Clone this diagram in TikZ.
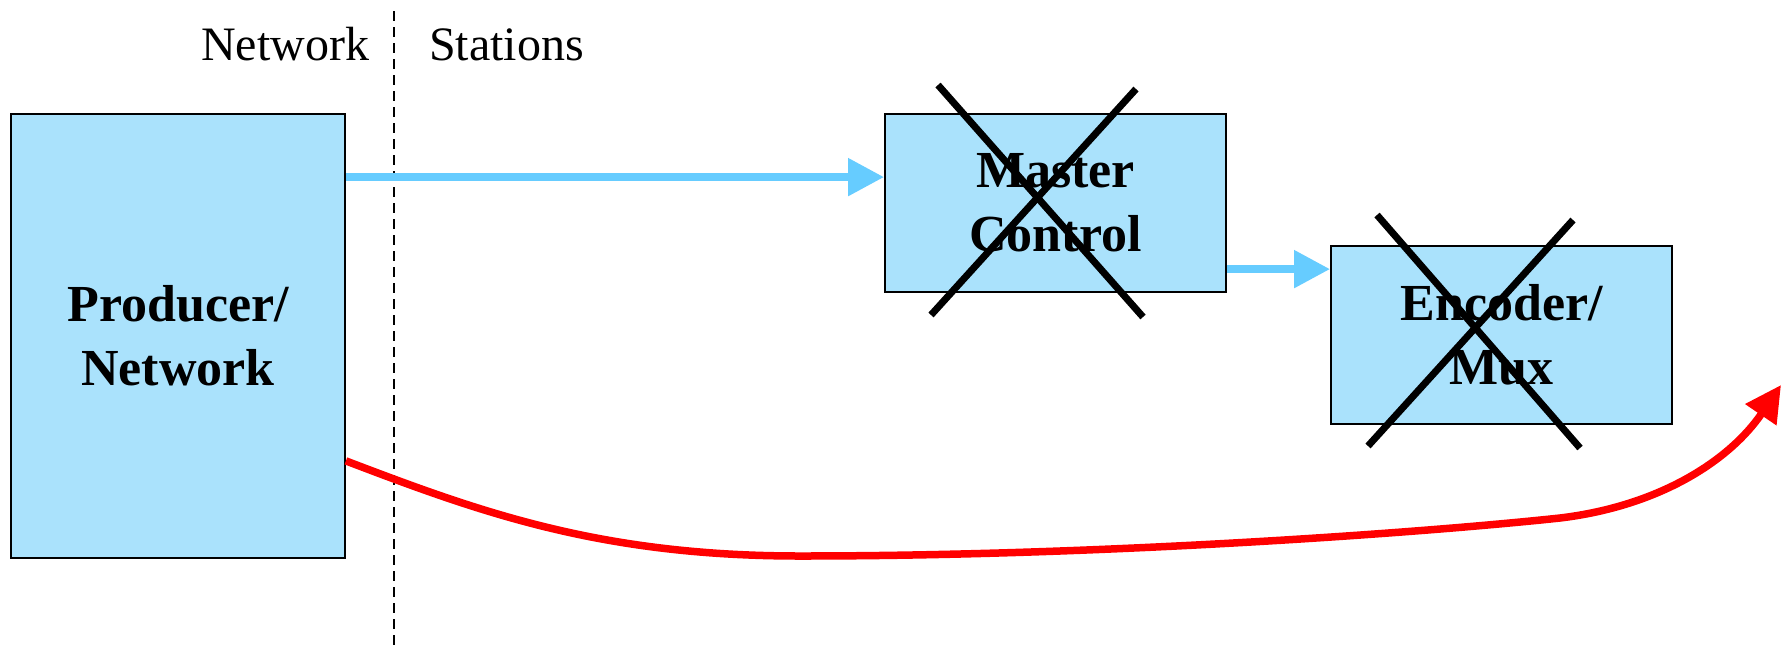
\documentclass[tikz,border=0pt]{standalone}
\usepackage{fontspec}
\setmainfont{Liberation Serif}
\usetikzlibrary{arrows.meta,calc}
\definecolor{boxfill}{RGB}{170,226,252}
\definecolor{flowblue}{RGB}{102,204,255}
\definecolor{flowred}{RGB}{255,0,0}
\tikzset{
  blockbox/.style={draw=black,line width=1.8pt,fill=boxfill,inner sep=0pt,align=center,
    font=\fontsize{52}{64}\selectfont\bfseries},
  bluearrow/.style={draw=flowblue,line width=8pt,-{Triangle[length=36pt,width=36pt]}},
  redarrow/.style={draw=flowred,line width=7.5pt,-{Triangle[length=36pt,width=36pt]}},
  crossline/.style={draw=black,line width=7pt},
  divider/.style={draw=black,line width=1.5pt,dash pattern=on 10pt off 6pt},
  headlabel/.style={font=\fontsize{48}{58}\selectfont,inner sep=0pt}
}
\begin{document}
\begin{tikzpicture}[x=1pt,y=-1pt]
\useasboundingbox[fill=white] (0,0) rectangle (1784,651);
% divider
\coordinate (dtop) at (394,11);
\coordinate (dbot) at (394,651);
\draw[divider] (dtop) -- (dbot);
\node[headlabel,anchor=base west] (lnet) at (201,60) {Network};
\node[headlabel,anchor=base west] (lsta) at (429,60) {Stations};
% boxes
\node[blockbox,minimum width=334pt,minimum height=444pt] (prod) at (178,336) {Producer/\\Network};
\node[blockbox,minimum width=341pt,minimum height=178pt] (master) at (1055.5,203) {Master\\Control};
\node[blockbox,minimum width=341pt,minimum height=178pt] (enc) at (1501.5,335) {Encoder/\\Mux};
% blue arrows
\draw[bluearrow] ($(prod.north east)+(0,64)$) -- ($(master.west |- prod.north east)+(0,64)$);
\draw[bluearrow] ($(master.east |- enc.north west)+(0,24)$) -- ($(enc.north west)+(0,24)$);
% crosses
\draw[crossline] (938,85) -- (1143,317);
\draw[crossline] (1136,89) -- (931,315);
\draw[crossline] (1377,215) -- (1580,448);
\draw[crossline] (1573,220) -- (1368,446);
% red curve
\coordinate (redmid1) at (800,556);
\coordinate (redmid2) at (1560,518);
\coordinate (redend) at (1781,385);
\draw[redarrow] ($(prod.south east)+(0,-98)$) .. controls (480,512) and (600,556) .. (redmid1)
  .. controls (1100,556) and (1420,533) .. (redmid2)
  .. controls (1660,506) and (1730,460) .. (redend);
\end{tikzpicture}
\end{document}
